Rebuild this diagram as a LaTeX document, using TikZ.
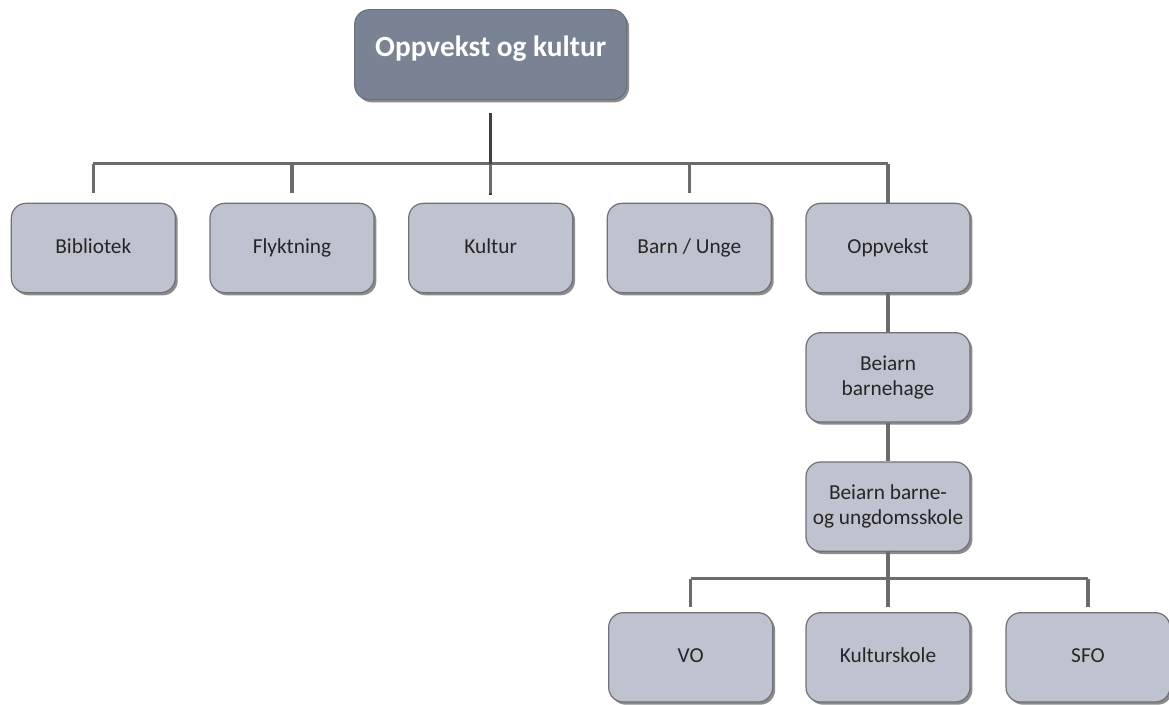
\documentclass[tikz,border=0pt]{standalone}
\usepackage{fontspec}
\setmainfont{Carlito}
\usetikzlibrary{shadows}
\definecolor{headfill}{RGB}{122,131,148}
\definecolor{boxfill}{RGB}{191,195,207}
\definecolor{boxline}{RGB}{112,112,118}
\definecolor{linkline}{RGB}{108,108,108}
\begin{document}
\begin{tikzpicture}[node distance=149pt,
					head/.style={rectangle, rounded corners=11pt, fill=headfill, draw=headfill!85!black, line width=0.8pt, minimum width=204pt, minimum height=67.5pt, text depth=12pt, text=white, font=\fontsize{22}{26}\selectfont\bfseries, drop shadow={shadow xshift=1.8pt, shadow yshift=-2pt, fill=black, opacity=0.45}},
					unit/.style={rectangle, rounded corners=11pt, fill=boxfill, draw=boxline, line width=0.9pt, minimum width=123pt, minimum height=67pt, inner sep=2pt, align=center, text=black!85, font=\fontsize{16}{19}\selectfont, drop shadow={shadow xshift=1.8pt, shadow yshift=-2pt, fill=black, opacity=0.45}},
					one/.style={text height=11.5pt, text depth=3.5pt},
					link/.style={draw=linkline, line width=2.4pt},
					trunk/.style={draw=black!75, line width=2.4pt}]
					\useasboundingbox (0,0) rectangle (876.75pt,-528pt);
					\node[head] (A) 		at (368pt,-41pt)								{Oppvekst og kultur};
					\node[unit,one] (D) 	[below of=A, node distance=145pt]		{Kultur};
					\node[unit,one] (C) 	[left of=D]											{Flyktning};
					\node[unit,one] (B) 	[left of=C]											{Bibliotek};
					\node[unit,one] (E) 	[right of=D]										{Barn / Unge};
					\node[unit] (F) 		[right of=E]										{Oppvekst};
					\node[unit] (G) 		[below of=F, node distance=97pt]		{Beiarn\\barnehage};
					\node[unit] (H) 		[below of=G, node distance=97pt]		{Beiarn barne-\\og ungdomsskole};
					\node[unit,one] (J) 	[below of=H, node distance=113pt]		{Kulturskole};
					\node[unit,one] (I) 	[left of=J, node distance=148pt]		{VO};
					\node[unit,one] (K) 	[right of=J, node distance=150pt]		{SFO};
					\path (A.south) ++(0,-47.5pt) coordinate (bus);
					\path (H.south) ++(0,-20pt) coordinate (bus2);
					\draw[link]																(B.north |- bus)	to (F.north |- bus);
					\draw[trunk, shorten <=9.75pt, shorten >=6pt]		(A.south)				to (A.south |- D.north);
					\foreach \n in {B,C,D,E}
						\draw[link, shorten >=7pt]								(\n.north |- bus)	to (\n.north);
					\draw[link]																(F.north |- bus)	to (F.north);
					\draw[link]																(F)							to (G);
					\draw[link]																(G)							to (H);
					\draw[link, shorten >=4pt]										(H)							to (J);
					\draw[link]																(I.north |- bus2)	to (K.north |- bus2);
					\foreach \n in {I,K}
						\draw[link, shorten >=4pt]								(\n.north |- bus2)	to (\n.north);
				\end{tikzpicture}
\end{document}
